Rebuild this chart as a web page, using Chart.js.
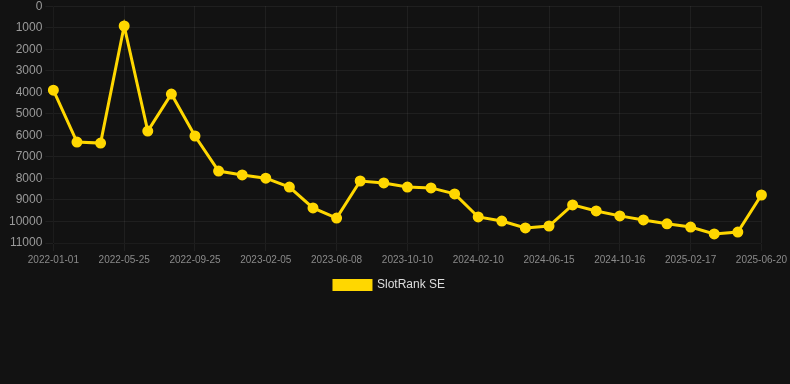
<!DOCTYPE html>
<html>
<head>
<meta charset="utf-8">
<script src="https://cdn.jsdelivr.net/npm/chart.js@4/dist/chart.umd.min.js"></script>
<style>
  html, body { margin: 0; padding: 0; background: #121212; overflow: hidden; }
  #wrap { width: 790px; height: 305px; position: relative; margin-top: -4px; }
</style>
</head>
<body>
<div id="wrap"><canvas id="c"></canvas></div>
<script>
const categories = [
  '2022-01-01','2022-02-18','2022-04-07','2022-05-25','2022-07-05','2022-08-15',
  '2022-09-25','2022-11-08','2022-12-22','2023-02-05','2023-03-18','2023-04-28',
  '2023-06-08','2023-07-19','2023-08-29','2023-10-10','2023-11-20','2023-12-31',
  '2024-02-10','2024-03-23','2024-05-04','2024-06-15','2024-07-26','2024-09-05',
  '2024-10-16','2024-11-26','2025-01-06','2025-02-17','2025-03-30','2025-05-10',
  '2025-06-20'
];
const seriesName = 'SlotRank SE';
const rankValues = [
  3900, 6310, 6360, 920, 5800, 4080, 6030, 7660, 7840, 7990, 8400,
  9370, 9840, 8120, 8210, 8400, 8440, 8720, 9790, 9980, 10300,
  10210, 9230, 9510, 9740, 9930, 10110, 10260, 10580, 10490, 8770
];
const yTicks = { min: 0, max: 11000, step: 1000 };

new Chart(document.getElementById('c'), {
  type: 'line',
  data: {
    labels: categories,
    datasets: [{
      label: seriesName,
      data: rankValues,
      borderColor: '#FFD700',
      backgroundColor: '#FFD700',
      pointBackgroundColor: '#FFD700',
      pointBorderColor: '#FFD700',
      borderWidth: 3,
      pointRadius: 4,
      tension: 0,
      fill: false
    }]
  },
  options: {
    responsive: true,
    maintainAspectRatio: false,
    animation: false,
    layout: { padding: { left: 6, right: 17, top: 0, bottom: 0 } },
    plugins: {
      legend: {
        position: 'bottom',
        labels: { color: '#dddddd', boxWidth: 37, boxHeight: 9, font: { size: 12, family: 'Liberation Sans, Arial, sans-serif' } }
      },
      tooltip: { enabled: false }
    },
    scales: {
      x: {
        grid: { color: 'rgba(255,255,255,0.06)', tickColor: 'rgba(255,255,255,0.06)' },
        ticks: {
          color: '#8a8a8a',
          autoSkip: false,
          maxRotation: 0,
          font: { size: 10, family: 'Liberation Sans, Arial, sans-serif' },
          callback: function (v, i) { return i % 3 === 0 ? categories[i] : null; }
        }
      },
      y: {
        reverse: true,
        min: yTicks.min,
        max: yTicks.max,
        grid: { color: 'rgba(255,255,255,0.06)', tickColor: 'rgba(255,255,255,0.06)' },
        ticks: {
          stepSize: yTicks.step,
          color: '#9a9a9a',
          font: { size: 12, family: 'Liberation Sans, Arial, sans-serif' },
          callback: function (v) { return String(v); }
        }
      }
    }
  }
});
</script>
</body>
</html>
